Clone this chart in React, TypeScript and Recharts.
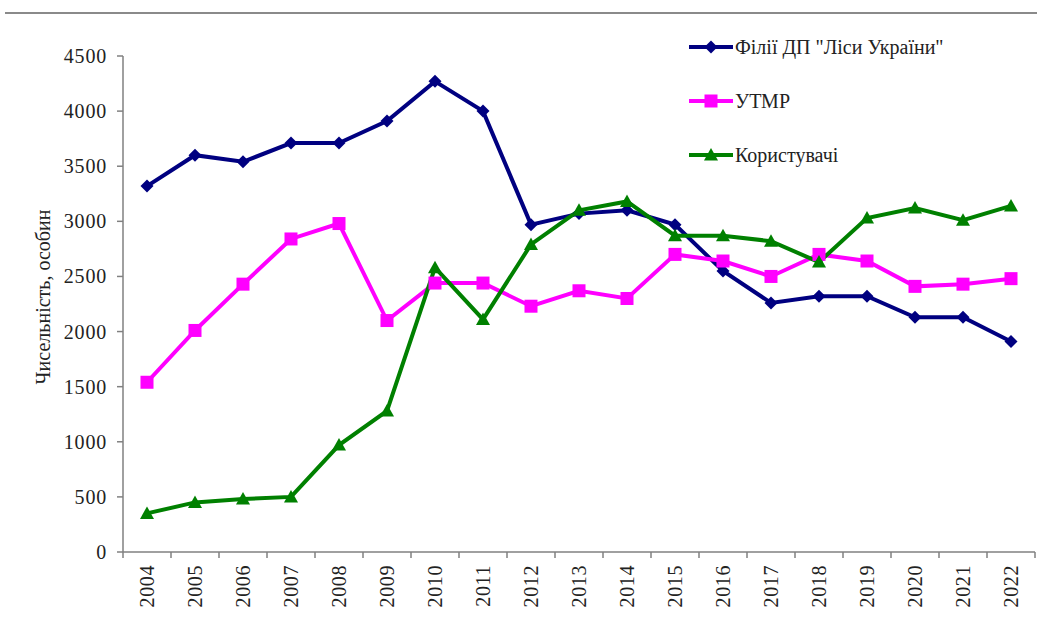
import React from "react";
import { LineChart, Line, XAxis, YAxis, Label } from "recharts";

const years = ["2004","2005","2006","2007","2008","2009","2010","2011","2012","2013","2014","2015","2016","2017","2018","2019","2020","2021","2022"];
const filii = [3320,3600,3540,3710,3710,3910,4270,4000,2970,3070,3100,2970,2550,2260,2320,2320,2130,2130,1910];
const utmr = [1540,2010,2430,2840,2980,2100,2440,2440,2230,2370,2300,2700,2640,2500,2700,2640,2410,2430,2480];
const korystuvachi = [350,450,480,500,970,1280,2580,2110,2790,3100,3180,2870,2870,2820,2630,3030,3120,3010,3140];
const yTicks = [0,500,1000,1500,2000,2500,3000,3500,4000,4500];

const seriesNames = { filii: 'Філії ДП "Ліси України"', utmr: "УТМР", kor: "Користувачі" };

const data = years.map((y, i) => ({ year: y, filii: filii[i], utmr: utmr[i], kor: korystuvachi[i] }));

const FONT = "Liberation Serif, Times New Roman, serif";
const BLUE = "#000080";
const PINK = "#FF00FF";
const GREEN = "#008000";
const AXIS = "#808080";
const AXIS_Y = 552;
const HALF_BAND = 24;

const Diamond = (props: any) => {
  const { cx, cy, fill } = props;
  if (cx == null || cy == null) return null;
  return <path d={`M${cx},${cy - 6.5} L${cx + 6.5},${cy} L${cx},${cy + 6.5} L${cx - 6.5},${cy} Z`} fill={fill} />;
};
const Square = (props: any) => {
  const { cx, cy, fill } = props;
  if (cx == null || cy == null) return null;
  return <rect x={cx - 6.5} y={cy - 6.5} width={13} height={13} fill={fill} />;
};
const Triangle = (props: any) => {
  const { cx, cy, fill } = props;
  if (cx == null || cy == null) return null;
  return <path d={`M${cx},${cy - 7} L${cx + 7},${cy + 5.5} L${cx - 7},${cy + 5.5} Z`} fill={fill} />;
};

const XTick = (props: any) => {
  const { x, index, payload } = props;
  const ty = 565;
  return (
    <g>
      <line x1={x - HALF_BAND} y1={AXIS_Y} x2={x - HALF_BAND} y2={AXIS_Y + 6} stroke={AXIS} strokeWidth={1.5} />
      {index === years.length - 1 && (
        <line x1={x + HALF_BAND} y1={AXIS_Y} x2={x + HALF_BAND} y2={AXIS_Y + 6} stroke={AXIS} strokeWidth={1.5} />
      )}
      <text
        x={x}
        y={ty}
        transform={`rotate(-90, ${x}, ${ty})`}
        textAnchor="end"
        dominantBaseline="central"
        style={{ fontFamily: FONT, fontSize: 20, letterSpacing: 0.6 }}
        fill="#222"
      >
        {payload.value}
      </text>
    </g>
  );
};

const YTick = (props: any) => {
  const { y, payload } = props;
  return (
    <text
      x={107}
      y={y}
      textAnchor="end"
      dominantBaseline="central"
      style={{ fontFamily: FONT, fontSize: 20, letterSpacing: 0.8 }}
      fill="#222"
    >
      {payload.value}
    </text>
  );
};

const legendItems = [
  { name: seriesNames.filii, color: BLUE, shape: "diamond" },
  { name: seriesNames.utmr, color: PINK, shape: "square" },
  { name: seriesNames.kor, color: GREEN, shape: "triangle" },
];

const LegendBox = () => (
  <div style={{ position: "absolute", left: 688, top: 20, fontFamily: FONT, fontSize: 20, color: "#222" }}>
    {legendItems.map((it, i) => (
      <div key={i} style={{ display: "flex", alignItems: "center", height: 54 }}>
        <svg width={47} height={20} style={{ display: "block" }}>
          <line x1={1} y1={10} x2={45} y2={10} stroke={it.color} strokeWidth={4} />
          {it.shape === "diamond" && <Diamond cx={23} cy={10} fill={it.color} />}
          {it.shape === "square" && <Square cx={23} cy={10} fill={it.color} />}
          {it.shape === "triangle" && <Triangle cx={23} cy={10} fill={it.color} />}
        </svg>
        <span style={{ whiteSpace: "nowrap", fontFamily: FONT }}>{it.name}</span>
      </div>
    ))}
  </div>
);

export default function App() {
  return (
    <div style={{ position: "fixed", left: 0, top: 0, width: 1037, height: 619, background: "#fff" }}>
      <div style={{ position: "absolute", left: 5, top: 12, width: 1032, height: 2, background: "#8a8a8a" }} />
      <LineChart width={1037} height={619} data={data} margin={{ top: 56, right: 2, bottom: 0, left: 0 }}>
        <XAxis
          dataKey="year"
          padding={{ left: HALF_BAND, right: HALF_BAND }}
          height={67}
          stroke={AXIS}
          strokeWidth={1.5}
          tickLine={false}
          tick={<XTick />}
          interval={0}
        />
        <YAxis
          width={123}
          domain={[0, 4500]}
          ticks={yTicks}
          interval={0}
          stroke={AXIS}
          strokeWidth={1.5}
          tickSize={6}
          tickMargin={5}
          tick={<YTick />}
        >
          <Label
            content={() => (
              <text
                x={43}
                y={297}
                transform="rotate(-90, 43, 297)"
                textAnchor="middle"
                dominantBaseline="central"
                style={{ fontFamily: FONT, fontSize: 20 }}
                fill="#222"
              >
                Чисельність, особин
              </text>
            )}
          />
        </YAxis>
        <Line
          dataKey="filii"
          name={seriesNames.filii}
          stroke={BLUE}
          strokeWidth={4}
          dot={<Diamond fill={BLUE} />}
          isAnimationActive={false}
        />
        <Line
          dataKey="utmr"
          name={seriesNames.utmr}
          stroke={PINK}
          strokeWidth={4}
          dot={<Square fill={PINK} />}
          isAnimationActive={false}
        />
        <Line
          dataKey="kor"
          name={seriesNames.kor}
          stroke={GREEN}
          strokeWidth={4}
          dot={<Triangle fill={GREEN} />}
          isAnimationActive={false}
        />
      </LineChart>
      <LegendBox />
    </div>
  );
}
